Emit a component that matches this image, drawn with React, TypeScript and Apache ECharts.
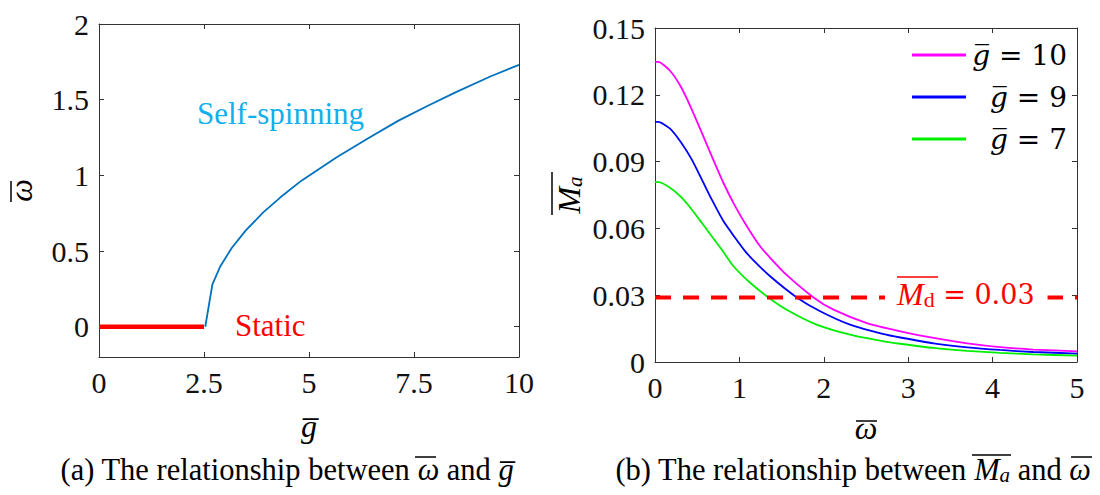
import React, { useEffect, useRef } from "react";
import * as echarts from "echarts";

// ---------- data ----------
const staticG = [0, 2.5];
const staticW = [0, 0];

const spinG = [2.53, 2.7, 2.89, 3.16, 3.49, 3.91, 4.32, 4.82, 5.66, 6.41, 7.12, 7.83, 8.5, 9.33, 10];
const spinW = [0, 0.28, 0.4, 0.52, 0.635, 0.755, 0.855, 0.965, 1.12, 1.245, 1.36, 1.46, 1.55, 1.655, 1.73];

const wTicks = [0, 0.5, 1, 1.5, 2];

const omega10 = [0, 0.04, 0.178, 0.305, 0.435, 0.554, 0.672, 0.81, 0.949, 1.088, 1.245, 1.384, 1.562, 1.878, 2.115, 2.51, 2.906, 3.3, 3.7, 4.09, 4.48, 5.0];
const ma10 = [0.1348, 0.1348, 0.1308, 0.1237, 0.1135, 0.103, 0.0925, 0.0805, 0.07, 0.061, 0.052, 0.046, 0.039, 0.029, 0.0235, 0.0175, 0.0138, 0.0108, 0.0084, 0.0067, 0.0056, 0.0048];

const omega9 = [0, 0.04, 0.178, 0.305, 0.435, 0.554, 0.672, 0.81, 0.949, 1.067, 1.158, 1.364, 1.68, 1.957, 2.31, 2.71, 2.906, 3.3, 3.7, 4.09, 4.48, 5.0];
const ma9 = [0.1078, 0.1078, 0.1048, 0.0988, 0.091, 0.082, 0.073, 0.0633, 0.0558, 0.0498, 0.046, 0.0385, 0.029, 0.0228, 0.0168, 0.0125, 0.011, 0.0084, 0.0066, 0.0054, 0.0045, 0.0038];

const omega7 = [0, 0.04, 0.178, 0.316, 0.435, 0.554, 0.672, 0.79, 0.93, 1.127, 1.344, 1.56, 1.915, 2.31, 2.71, 2.906, 3.3, 3.7, 4.09, 4.48, 5.0];
const ma7 = [0.0808, 0.0808, 0.0783, 0.0738, 0.0685, 0.0625, 0.0565, 0.0505, 0.043, 0.0356, 0.029, 0.0235, 0.0168, 0.0123, 0.0093, 0.0082, 0.0063, 0.005, 0.0041, 0.0034, 0.0029];

const mdOmega = [0, 5];
const mdValue = [0.029, 0.029];

const seriesNames = ["g\u0305 = 10", "g\u0305 = 9", "g\u0305 = 7"];
const seriesColors = ["#ff00ff", "#0000ff", "#00ee00"];

const zip = (xs: number[], ys: number[]) => xs.map((x, i) => [x, ys[i]]);

const SERIF = "Liberation Serif";
const MATH = "DejaVu Serif";
const AX = "#333333";

const tickLabel = { fontFamily: SERIF, fontSize: 30, color: "#111", margin: 10 };

function baseAxis(extra: any) {
  return {
    type: "value",
    axisLine: { show: true, onZero: false, lineStyle: { color: AX, width: 1 } },
    axisTick: { show: true, inside: true, length: 5, lineStyle: { color: AX } },
    splitLine: { show: false },
    axisLabel: tickLabel,
    ...extra,
  };
}

function mirrorAxis(extra: any) {
  return baseAxis({ axisLabel: { show: false }, ...extra });
}

const italicRich = (size: number, color = "#000", family = SERIF) => ({
  fontStyle: "italic", fontSize: size, fontFamily: family, color,
});

export default function App() {
  const ref = useRef<HTMLDivElement>(null);

  useEffect(() => {
    document.body.style.margin = "0";
    if (!ref.current) return;
    const chart = echarts.init(ref.current, null, { renderer: "svg" });

    const bar = (x1: number, y1: number, x2: number, y2: number, stroke = "#000") => ({
      type: "line", z: 60, shape: { x1, y1, x2, y2 }, style: { stroke, lineWidth: 1.5 },
    });
    const gfx = (x: number, y: number, text: string, rich: any, extra: any = {}) => ({
      type: "text", x, y, z: 50,
      style: { text, fontFamily: SERIF, fontSize: 31, verticalAlign: "middle", rich, ...extra },
    });

    const option: any = {
      animation: false,
      textStyle: { fontFamily: SERIF },
      grid: [
        { left: 99, top: 24, width: 420, height: 333 },
        { left: 655, top: 28, width: 422, height: 334 },
      ],
      legend: {
        data: seriesNames,
        left: 907,
        top: 34,
        orient: "vertical",
        icon: "rect",
        itemWidth: 54,
        itemHeight: 3,
        itemGap: 10,
        formatter: (n: string) => "{i|g\u0305}{r|" + n.replace("g\u0305", "") + "}",
        textStyle: {
          fontFamily: MATH,
          fontSize: 28,
          color: "#000",
          lineHeight: 32,
          width: 96,
          rich: {
            i: { ...italicRich(28, "#000", MATH), lineHeight: 32, align: "right" },
            r: { fontFamily: MATH, fontSize: 28, color: "#000", lineHeight: 32, align: "right" },
          },
        },
      },
      xAxis: [
        baseAxis({
          gridIndex: 0, min: 0, max: 10, interval: 2.5,
          name: "{i|g\u0305}", nameLocation: "middle", nameGap: 53,
          nameTextStyle: { fontFamily: SERIF, fontSize: 32, rich: { i: italicRich(32) } },
        }),
        mirrorAxis({ gridIndex: 0, position: "top", min: 0, max: 10, interval: 2.5 }),
        baseAxis({
          gridIndex: 1, min: 0, max: 5, interval: 1,
          name: "{i|\u03c9}", nameLocation: "middle", nameGap: 50,
          nameTextStyle: { fontFamily: SERIF, fontSize: 32, rich: { i: italicRich(32) } },
        }),
        mirrorAxis({ gridIndex: 1, position: "top", min: 0, max: 5, interval: 1 }),
      ],
      yAxis: [
        baseAxis({
          gridIndex: 0, min: -0.2, max: 2,
          axisLabel: { ...tickLabel, customValues: wTicks },
          axisTick: { show: true, inside: true, length: 5, lineStyle: { color: AX }, customValues: wTicks },
          name: "{i|\u03c9}", nameLocation: "middle", nameGap: 62, nameRotate: 90,
          nameTextStyle: { fontFamily: SERIF, fontSize: 32, rich: { i: italicRich(32) } },
        }),
        mirrorAxis({
          gridIndex: 0, position: "right", min: -0.2, max: 2,
          axisTick: { show: true, inside: true, length: 5, lineStyle: { color: AX }, customValues: wTicks },
        }),
        baseAxis({
          gridIndex: 1, min: 0, max: 0.15, interval: 0.03,
          name: "{m|M}{s|a}", nameLocation: "middle", nameGap: 70, nameRotate: 90,
          nameTextStyle: {
            fontFamily: SERIF, fontSize: 32,
            rich: {
              m: italicRich(32),
              s: { ...italicRich(21), verticalAlign: "bottom" },
            },
          },
        }),
        mirrorAxis({ gridIndex: 1, position: "right", min: 0, max: 0.15, interval: 0.03 }),
      ],
      series: [
        {
          type: "line", name: "static", xAxisIndex: 0, yAxisIndex: 0,
          data: zip(staticG, staticW), showSymbol: false, color: "#ff0000",
          lineStyle: { width: 4.5, color: "#ff0000" }, z: 3,
        },
        {
          type: "line", name: "spin", xAxisIndex: 0, yAxisIndex: 0,
          data: zip(spinG, spinW), showSymbol: false, color: "#0072bd",
          lineStyle: { width: 1.8, color: "#0072bd" },
        },
        ...[zip(omega10, ma10), zip(omega9, ma9), zip(omega7, ma7)].map((d, i) => ({
          type: "line", name: seriesNames[i], xAxisIndex: 2, yAxisIndex: 2,
          data: d, showSymbol: false, color: seriesColors[i], smooth: 0.2,
          lineStyle: { width: 1.8, color: seriesColors[i] },
        })),
        {
          type: "line", name: "Md", xAxisIndex: 2, yAxisIndex: 2,
          data: zip(mdOmega, mdValue), showSymbol: false, color: "#ff0000",
          lineStyle: { width: 4, color: "#ff0000", type: [16, 12] }, z: 4,
        },
      ],
      graphic: [
        gfx(197, 113, "Self-spinning", {}, { fill: "#12b0ea" }),
        gfx(235, 325, "Static", {}, { fill: "#ff0000" }),
        gfx(885, 294, "{m|M}{d|d}{r| = 0.03}", {
          m: { fill: "#ff0000", fontFamily: SERIF, fontStyle: "italic", fontSize: 32 },
          d: { fill: "#ff0000", fontFamily: SERIF, fontSize: 22, verticalAlign: "bottom" },
          r: { fill: "#ff0000", fontFamily: MATH, fontSize: 27 },
        }, { fill: "#ff0000", backgroundColor: "#ffffff", padding: [4, 13, 4, 12] }),
        bar(897, 277, 938, 277, "#ff0000"),
        gfx(287, 470, "(a) The relationship between {i|\u03c9} and {i|g\u0305}", {
          i: { fill: "#000", fontFamily: SERIF, fontStyle: "italic", fontSize: 30.5 },
        }, { fill: "#000", fontSize: 30.5, align: "center" }),
        gfx(853, 470, "(b) The relationship between {i|M}{s|a} and {i|\u03c9}", {
          i: { fill: "#000", fontFamily: SERIF, fontStyle: "italic", fontSize: 30.5 },
          s: { fill: "#000", fontFamily: SERIF, fontStyle: "italic", fontSize: 21, verticalAlign: "bottom" },
        }, { fill: "#000", fontSize: 30.5, align: "center" }),
        // overlines
        bar(972, 455, 1011, 455),
        bar(1071, 457, 1092, 457),
        bar(415, 457, 436, 457),
        bar(552, 172, 552, 215),
        bar(11, 181, 11, 202),
        bar(856, 421, 877, 421),
      ],
    };

    chart.setOption(option);
    return () => chart.dispose();
  }, []);

  return <div ref={ref} style={{ width: 1100, height: 495 }} />;
}
